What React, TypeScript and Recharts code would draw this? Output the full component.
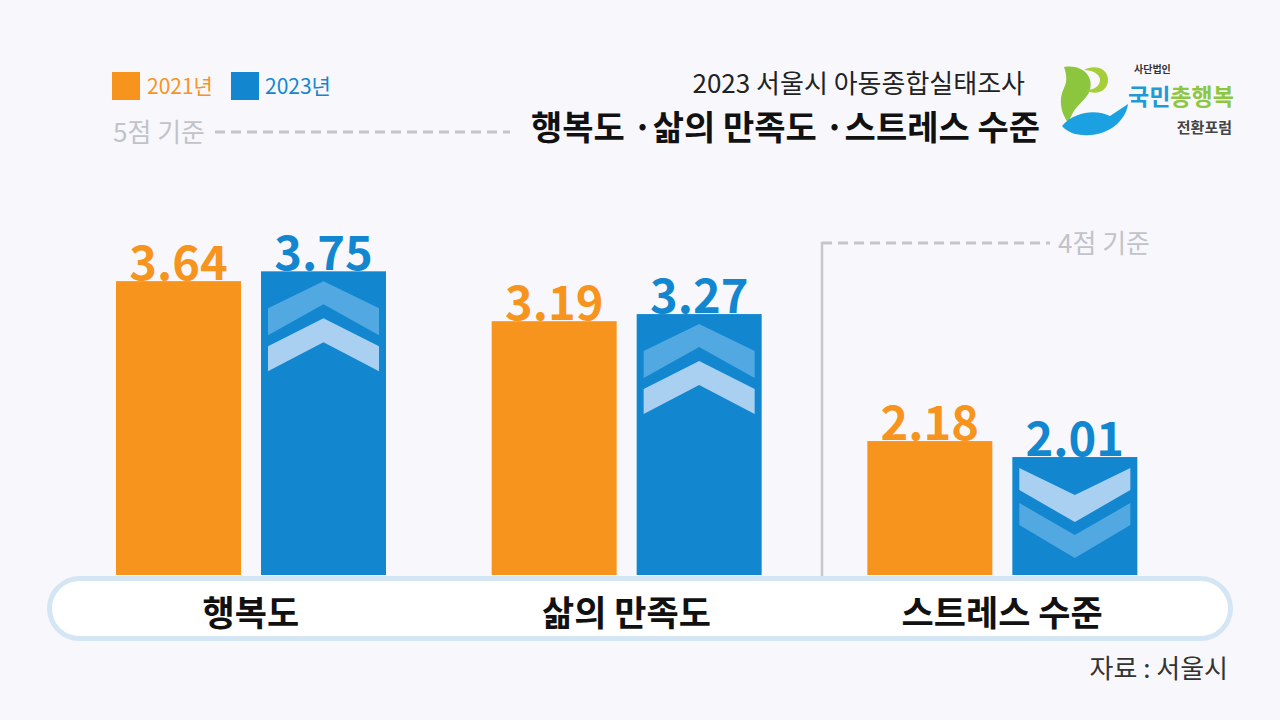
import React from 'react';
import { BarChart, Bar, XAxis, YAxis, LabelList } from 'recharts';

const categories = ['행복도', '삶의 만족도', '스트레스 수준'];
const values2021 = [3.64, 3.19, 2.18];
const values2023 = [3.75, 3.27, 2.01];
const scaleGroup = ['5점', '5점', '4점'];
const seriesNames = ['2021년', '2023년'];

const ORANGE = '#f7941d';
const BLUE = '#1287d0';
const FONT = '"Noto Sans CJK KR", "Noto Sans", sans-serif';

const buildData = (group: string) =>
  categories.map((c, i) => ({
    cat: c,
    y2021: scaleGroup[i] === group ? values2021[i] : null,
    y2023: scaleGroup[i] === group ? values2023[i] : null,
  }));

const data5 = buildData('5점');
const data4 = buildData('4점');

const W = 1280;
const H = 720;
const MARGIN_X = { left: 63, right: 90 };

const ChevronBar = (props: any) => {
  const { x, y, width, height, payload, value } = props;
  if (value == null || height == null || height <= 0) return null;
  const up = payload.y2023 >= payload.y2021;
  const inset = 7;
  const l = x + inset;
  const r = x + width - inset;
  const cx = x + width / 2;
  const chev = (apexOuter: number, sideOuter: number, sideInner: number, apexInner: number) =>
    `M${l},${sideOuter} L${cx},${apexOuter} L${r},${sideOuter} L${r},${sideInner} L${cx},${apexInner} L${l},${sideInner} Z`;
  const t = y;
  let p1: string, p2: string, c1: string, c2: string;
  if (up) {
    p1 = chev(t + 10, t + 37, t + 64, t + 33);
    p2 = chev(t + 47, t + 75, t + 100, t + 71);
    c1 = '#52a9e2';
    c2 = '#a9cff1';
  } else {
    p1 = chev(t + 38, t + 11, t + 33, t + 65);
    p2 = chev(t + 78, t + 46, t + 68, t + 101);
    c1 = '#a9cff1';
    c2 = '#52a9e2';
  }
  return (
    <g>
      <rect x={x} y={y} width={width} height={height} fill={BLUE} />
      <path d={p1} fill={c1} />
      <path d={p2} fill={c2} />
    </g>
  );
};

const PlainBar = (props: any) => {
  const { x, y, width, height, value, fill } = props;
  if (value == null || height == null || height <= 0) return null;
  return <rect x={x} y={y} width={width} height={height} fill={fill} />;
};

const makeLabel = (color: string) => (props: any) => {
  const { x, y, width, value } = props;
  if (value == null) return null;
  return (
    <text
      x={x + width / 2}
      y={y - 1}
      textAnchor="middle"
      fill={color}
      fontFamily={FONT}
      fontWeight={700}
      fontSize={47}
    >
      {Number(value).toFixed(2)}
    </text>
  );
};

const CatTick = (props: any) => {
  const { x, payload } = props;
  return (
    <text
      x={x}
      y={610}
      textAnchor="middle"
      dominantBaseline="central"
      fill="#111"
      fontFamily={FONT}
      fontWeight={700}
      fontSize={35}
    >
      {payload.value}
    </text>
  );
};

export default function App() {
  return (
    <div
      style={{
        position: 'absolute',
        left: 0,
        top: 0,
        width: W,
        height: H,
        background: '#f8f8fc',
        overflow: 'hidden',
        fontFamily: FONT,
      }}
    >
      {/* category pill */}
      <div
        style={{
          position: 'absolute',
          left: 47,
          top: 576,
          width: 1186,
          height: 65,
          boxSizing: 'border-box',
          border: '5px solid #d4e5f4',
          borderRadius: 33,
          background: '#ffffff',
        }}
      />

      {/* header svg */}
      <svg width={W} height={H} style={{ position: 'absolute', left: 0, top: 0 }}>
        {/* legend */}
        <rect x={112} y={72} width={28} height={28} fill={ORANGE} />
        <text x={147} y={94} fill={ORANGE} fontSize={21} fontFamily={FONT}>{seriesNames[0]}</text>
        <rect x={231} y={72} width={28} height={28} fill={BLUE} />
        <text x={265} y={94} fill={BLUE} fontSize={21} fontFamily={FONT}>{seriesNames[1]}</text>

        {/* 5-point reference */}
        <text x={113} y={142} fill="#c2c2ca" fontSize={26} fontFamily={FONT}>5점 기준</text>
        <line x1={215} y1={132} x2={510} y2={132} stroke="#c4c4cc" strokeWidth={3} strokeDasharray="10 6" />

        {/* 4-point reference */}
        <line x1={822} y1={243} x2={1050} y2={243} stroke="#c4c4cc" strokeWidth={3} strokeDasharray="10 6" />
        <line x1={822} y1={242} x2={822} y2={576} stroke="#c8c8cc" strokeWidth={2.5} />
        <text x={1058} y={253} fill="#c2c2ca" fontSize={26} fontFamily={FONT}>4점 기준</text>

        {/* titles */}
        <text x={1025} y={93} textAnchor="end" fill="#222" fontSize={26} fontFamily={FONT} fontWeight={400}>
          2023 서울시 아동종합실태조사
        </text>
        <text x={1040} y={140} textAnchor="end" fill="#111" fontSize={34} fontFamily={FONT} fontWeight={700}>
          행복도 ·삶의 만족도 ·스트레스 수준
        </text>

        {/* logo */}
        <g>
          <path
            d="M1064,67 C1082,64 1094,76 1090,90 C1086,102 1072,106 1069,124 C1061,114 1058,100 1064,88 C1068,80 1066,73 1064,67 Z"
            fill="#8cc63f"
          />
          <path
            d="M1084,70 C1094,64 1108,68 1108,80 C1108,92 1094,96 1086,90 C1094,90 1100,86 1100,80 C1100,74 1092,70 1084,70 Z"
            fill="#a6ce39"
          />
          <path
            d="M1062,126 C1076,110 1098,110 1110,116 C1116,112 1122,108 1128,104 C1126,120 1110,134 1090,135 C1078,136 1068,133 1062,126 Z"
            fill="#1ba1e2"
          />
          <text x={1134} y={73} fill="#333" fontSize={10} fontFamily={FONT} fontWeight={700}>사단법인</text>
          <text x={1128} y={105} fontSize={23} fontFamily={FONT} fontWeight={700}>
            <tspan fill="#1e9bd7">국민</tspan>
            <tspan fill="#8dc63f">총행복</tspan>
          </text>
          <text x={1232} y={133} textAnchor="end" fill="#444" fontSize={15} fontFamily={FONT} fontWeight={700}>전환포럼</text>
        </g>

        {/* source */}
        <text x={1228} y={678} textAnchor="end" fill="#333" fontSize={26} fontFamily={FONT}>자료 : 서울시</text>
      </svg>

      {/* 5-point scale chart */}
      <div style={{ position: 'absolute', left: 0, top: 0 }}>
        <BarChart
          width={W}
          height={H}
          data={data5}
          margin={{ top: 160, bottom: 85, left: MARGIN_X.left, right: MARGIN_X.right }}
          barGap={20}
          barSize={125}
        >
          <XAxis dataKey="cat" axisLine={false} tickLine={false} height={60} tick={<CatTick />} interval={0} />
          <YAxis hide domain={[0.34, 5]} allowDataOverflow />
          <Bar dataKey="y2021" fill={ORANGE} isAnimationActive={false} shape={<PlainBar />}>
            <LabelList dataKey="y2021" content={makeLabel(ORANGE)} />
          </Bar>
          <Bar dataKey="y2023" fill={BLUE} isAnimationActive={false} shape={<ChevronBar />}>
            <LabelList dataKey="y2023" content={makeLabel(BLUE)} />
          </Bar>
        </BarChart>
      </div>

      {/* 4-point scale chart */}
      <div style={{ position: 'absolute', left: 0, top: 0 }}>
        <BarChart
          width={W}
          height={H}
          data={data4}
          margin={{ top: 270, bottom: 145, left: MARGIN_X.left, right: MARGIN_X.right }}
          barGap={20}
          barSize={125}
        >
          <XAxis dataKey="cat" hide />
          <YAxis hide domain={[0.755, 4]} allowDataOverflow />
          <Bar dataKey="y2021" fill={ORANGE} isAnimationActive={false} shape={<PlainBar />}>
            <LabelList dataKey="y2021" content={makeLabel(ORANGE)} />
          </Bar>
          <Bar dataKey="y2023" fill={BLUE} isAnimationActive={false} shape={<ChevronBar />}>
            <LabelList dataKey="y2023" content={makeLabel(BLUE)} />
          </Bar>
        </BarChart>
      </div>
    </div>
  );
}
